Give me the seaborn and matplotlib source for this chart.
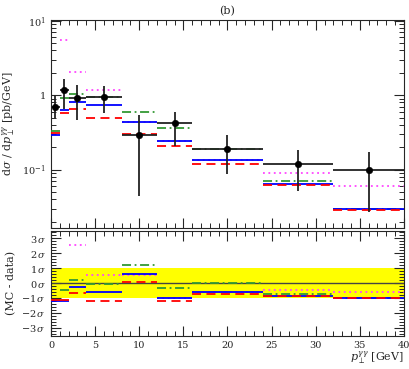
import numpy as np
import pandas as pd
import matplotlib
matplotlib.use("Agg")
import matplotlib.pyplot as plt
import seaborn as sns
from matplotlib.ticker import MultipleLocator, LogLocator, NullFormatter, FixedLocator

# bin edges in pT(gamma gamma) [GeV]
edges = [0, 1, 2, 4, 8, 12, 16, 24, 32, 40]

# data: d sigma / d pT [pb/GeV] with asymmetric errors
data = [0.70, 1.18, 0.92, 0.96, 0.29, 0.42, 0.188, 0.12, 0.10]
data_lo = [0.49, 0.65, 0.47, 0.57, 0.044, 0.206, 0.088, 0.052, 0.0266]
data_hi = [1.00, 1.68, 1.36, 1.34, 0.54, 0.59, 0.29, 0.186, 0.171]

# MC predictions
mc_magenta = [np.nan, 5.6, 2.07, 1.18, 0.44, 0.245, 0.134, 0.091, 0.061]
mc_green = [0.33, 0.93, 1.03, 0.96, 0.59, 0.36, 0.19, 0.071, 0.030]
mc_blue = [0.29, 0.63, 0.81, 0.73, 0.44, 0.246, 0.134, 0.064, 0.030]
mc_red = [0.31, 0.57, 0.65, 0.49, 0.30, 0.21, 0.12, 0.063, 0.029]

# (MC - data) in units of sigma
dev_magenta = [np.nan, 8.8, 2.56, 0.51, 0.55, -0.97, -0.6, -0.49, -0.58]
dev_green = [-1.15, -0.49, 0.23, -0.04, 1.22, -0.35, 0.0, -0.76, -1.02]
dev_blue = [-1.22, -1.18, -0.28, -0.58, 0.58, -0.97, -0.6, -0.89, -1.02]
dev_red = [-1.12, -1.15, -0.64, -1.22, 0.05, -1.2, -0.72, -0.87, -1.02]

sigma_ticks = [-3, -2, -1, 0, 1, 2, 3]
sigma_labels = [r"$-3\,\sigma$", r"$-2\,\sigma$", r"$-1\,\sigma$", r"$0\,\sigma$",
                r"$1\,\sigma$", r"$2\,\sigma$", r"$3\,\sigma$"]

sns.set_style("ticks")
plt.rcParams["font.family"] = ["DejaVu Serif"]
plt.rcParams["mathtext.fontset"] = "dejavuserif"

lo = np.array(edges[:-1], dtype=float)
hi = np.array(edges[1:], dtype=float)
centers = (lo + hi) / 2

df = pd.DataFrame({"x": centers, "y": data})

styles = [
    (mc_magenta, dev_magenta, "#ff44ff", (0, (1, 2))),
    (mc_green, dev_green, "#339933", (0, (5, 2, 1, 2))),
    (mc_blue, dev_blue, "#0000ff", "solid"),
    (mc_red, dev_red, "#ff0000", (0, (5, 3))),
]

fig = plt.figure(figsize=(4.09, 3.69), dpi=100)
ax = fig.add_axes([0.1247, 0.382, 0.863, 0.564])
ax2 = fig.add_axes([0.1247, 0.0894, 0.863, 0.285])

# top panel
for vals, dev, col, ls in styles:
    ax.hlines(vals, lo, hi, colors=col, linestyles=ls, lw=1.3, zorder=3)
    ax2.hlines(dev, lo, hi, colors=col, linestyles=ls, lw=1.3, zorder=3)

ax.hlines(data, lo, hi, colors="#222222", lw=1.3, zorder=4)
ax.vlines(centers, data_lo, data_hi, colors="#222222", lw=1.3, zorder=4)
sns.scatterplot(data=df, x="x", y="y", ax=ax, color="black", s=22, zorder=5,
                edgecolor="black", legend=False)

ax.set_yscale("log")
ax.set_xlim(0, 40)
ax.set_ylim(0.0164, 10.3)
ax.set_xlabel("")
ax.set_ylabel(r"d$\sigma$ / d$p_\perp^{\gamma\gamma}$ [pb/GeV]", fontsize=8)
ax.set_title("(b)", fontsize=8, pad=4)
ax.xaxis.set_major_locator(MultipleLocator(5))
ax.xaxis.set_minor_locator(MultipleLocator(1))
ax.xaxis.set_major_formatter(NullFormatter())
ax.yaxis.set_major_locator(FixedLocator([0.1, 1, 10]))
ax.set_yticklabels([r"$10^{-1}$", "1", r"$10^{1}$"])
ax.yaxis.set_minor_locator(LogLocator(base=10, subs=np.arange(2, 10)))
ax.yaxis.set_minor_formatter(NullFormatter())

# bottom panel
ax2.axhspan(-1, 1, color="#ffff00", zorder=0, lw=0)
ax2.axhline(0, color="#444444", lw=1.0, zorder=2)
ax2.set_xlim(0, 40)
ax2.set_ylim(-3.55, 3.5)
ax2.set_yticks(sigma_ticks)
ax2.set_yticklabels(sigma_labels)
ax2.yaxis.set_minor_locator(MultipleLocator(0.2))
ax2.xaxis.set_major_locator(MultipleLocator(5))
ax2.xaxis.set_minor_locator(MultipleLocator(1))
ax2.set_ylabel("(MC - data)", fontsize=8)
ax2.set_xlabel(r"$p_\perp^{\gamma\gamma}$ [GeV]", fontsize=8, loc="right", labelpad=0)

for a in (ax, ax2):
    a.tick_params(which="both", direction="in", top=True, right=True, labelsize=7)
    a.tick_params(which="major", length=7, width=0.8)
    a.tick_params(which="minor", length=3.5, width=0.7)
    for s in a.spines.values():
        s.set_linewidth(0.8)

fig.savefig("out.png", dpi=100)
